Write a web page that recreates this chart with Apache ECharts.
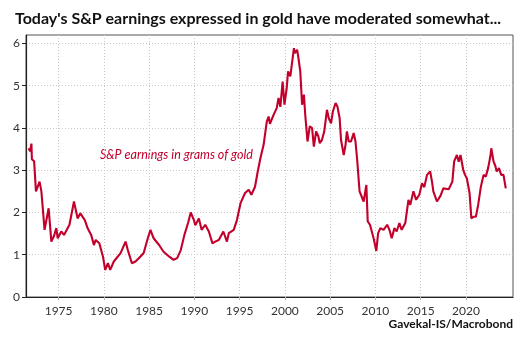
<!DOCTYPE html>
<html>
<head>
<meta charset="utf-8">
<script src="https://cdn.jsdelivr.net/npm/echarts@6/dist/echarts.min.js"></script>
<style>
  html, body { margin: 0; padding: 0; background: #fff; }
  #chart { width: 528px; height: 339px; }
</style>
</head>
<body>
<div id="chart"></div>
<script>
// S&P 500 earnings per share divided by the gold price, in grams of gold
const years = [
  1971.7, 1971.85, 1972.0, 1972.05, 1972.3, 1972.5, 1972.9, 1973.1, 1973.45, 1973.9,
  1974.2, 1974.5, 1974.75, 1974.9, 1975.3, 1975.6, 1976.2, 1976.7, 1977.1, 1977.4,
  1977.9, 1978.2, 1978.6, 1978.9, 1979.1, 1979.5, 1979.9, 1980.15, 1980.45, 1980.7,
  1981.1, 1981.3, 1981.85, 1982.4, 1982.65, 1983.1, 1983.5, 1984.05, 1984.4, 1984.8,
  1985.15, 1985.5, 1986.1, 1986.6, 1987.2, 1987.7, 1988.1, 1988.5, 1988.9, 1989.3,
  1989.6, 1989.95, 1990.1, 1990.5, 1990.8, 1991.2, 1991.6, 1992.0, 1992.3, 1992.7,
  1993.2, 1993.6, 1993.8, 1994.35, 1994.7, 1995.1, 1995.6, 1996.0, 1996.3, 1996.7,
  1997.0, 1997.3, 1997.65, 1998.0, 1998.2, 1998.35, 1998.75, 1999.1, 1999.3, 1999.5,
  1999.75, 1999.95, 2000.2, 2000.35, 2000.6, 2001.0, 2001.1, 2001.35, 2001.5, 2001.7,
  2001.9, 2002.1, 2002.25, 2002.5, 2002.75, 2003.0, 2003.2, 2003.45, 2003.7, 2003.85,
  2004.1, 2004.35, 2004.65, 2004.85, 2005.1, 2005.3, 2005.6, 2005.8, 2006.05, 2006.2,
  2006.5, 2006.7, 2006.85, 2007.05, 2007.3, 2007.6, 2007.8, 2008.0, 2008.25, 2008.45,
  2008.7, 2009.0, 2009.15, 2009.4, 2009.8, 2010.1, 2010.3, 2010.55, 2010.9, 2011.3,
  2011.55, 2011.8, 2012.1, 2012.35, 2012.65, 2012.9, 2013.3, 2013.65, 2013.85, 2014.2,
  2014.5, 2014.85, 2015.15, 2015.4, 2015.7, 2016.05, 2016.25, 2016.4, 2016.8, 2017.2,
  2017.5, 2017.7, 2018.1, 2018.5, 2018.7, 2019.0, 2019.2, 2019.4, 2019.7, 2019.9,
  2020.1, 2020.4, 2020.6, 2020.85, 2021.1, 2021.35, 2021.65, 2021.95, 2022.2, 2022.45,
  2022.7, 2022.8, 2023.05, 2023.25, 2023.4, 2023.65, 2023.9, 2024.15, 2024.4
];
const grams = [
  3.52, 3.45, 3.63, 3.26, 3.21, 2.50, 2.73, 2.50, 1.59, 2.10,
  1.31, 1.45, 1.63, 1.39, 1.55, 1.47, 1.71, 2.26, 1.86, 1.98,
  1.82, 1.63, 1.47, 1.23, 1.35, 1.27, 0.96, 0.64, 0.80, 0.64,
  0.84, 0.88, 1.04, 1.31, 1.11, 0.80, 0.84, 0.96, 1.04, 1.35,
  1.59, 1.39, 1.23, 1.07, 0.96, 0.88, 0.92, 1.11, 1.47, 1.75,
  2.00, 1.82, 1.70, 1.86, 1.59, 1.71, 1.55, 1.27, 1.31, 1.35,
  1.55, 1.31, 1.51, 1.59, 1.82, 2.22, 2.46, 2.54, 2.42, 2.61,
  2.97, 3.29, 3.60, 4.15, 4.27, 4.10, 4.31, 4.47, 4.71, 4.50,
  5.10, 4.55, 4.94, 5.34, 5.22, 5.89, 5.77, 5.85, 5.65, 5.34,
  4.55, 4.79, 4.31, 3.68, 4.04, 4.00, 3.56, 3.92, 3.80, 3.64,
  3.72, 3.92, 4.43, 4.23, 4.11, 4.39, 4.59, 4.51, 4.23, 3.72,
  3.36, 3.60, 3.92, 3.68, 3.68, 3.88, 3.68, 3.21, 2.50, 2.54,
  2.26, 2.65, 1.79, 1.71, 1.39, 1.09, 1.51, 1.63, 1.59, 1.71,
  1.59, 1.39, 1.63, 1.55, 1.75, 1.59, 1.75, 2.30, 2.18, 2.50,
  2.30, 2.42, 2.69, 2.60, 2.89, 2.97, 2.73, 2.50, 2.26, 2.40,
  2.57, 2.61, 2.55, 2.73, 3.21, 3.36, 3.20, 3.36, 3.01, 2.89,
  2.81, 2.46, 1.86, 1.90, 1.90, 2.18, 2.61, 2.89, 2.85, 3.05,
  3.33, 3.52, 3.21, 3.10, 2.97, 3.05, 2.89, 2.89, 2.57
];
const yearTicks = [1975, 1980, 1985, 1990, 1995, 2000, 2005, 2010, 2015, 2020];
const gramTicks = [0, 1, 2, 3, 4, 5, 6];

const titleText = "Today's S&P earnings expressed in gold have moderated somewhat...";
const seriesLabel = 'S&P earnings in grams of gold';
const sourceText = 'Gavekal-IS/Macrobond';

const FONT = 'Lato, "Open Sans", sans-serif';
const RED = '#c2002b';

const chart = echarts.init(document.getElementById('chart'), null, { renderer: 'canvas' });

chart.setOption({
  animation: false,
  backgroundColor: '#ffffff',
  title: {
    text: titleText,
    left: 10,
    top: 6,
    textStyle: { fontFamily: FONT, fontWeight: 'bold', fontSize: 16, color: '#111' }
  },
  grid: {
    left: 26, right: 15, top: 35, bottom: 42,
    outerBoundsMode: 'none',
    containLabel: false,
    show: true, borderColor: '#555', borderWidth: 1, backgroundColor: 'transparent'
  },
  xAxis: {
    type: 'value',
    min: 1971.4,
    max: 2025.2,
    axisLine: { show: true, lineStyle: { color: '#222', width: 1.2 } },
    axisTick: { show: true, customValues: yearTicks, length: 3, lineStyle: { color: '#bbb' } },
    axisLabel: {
      customValues: yearTicks,
      fontFamily: FONT, fontSize: 12, color: '#333', margin: 8,
      formatter: v => String(v)
    },
    splitLine: { show: true, lineStyle: { color: '#c8c8c8', type: [1, 2], width: 1 } }
  },
  yAxis: {
    type: 'value',
    min: 0,
    max: 6.2,
    name: 'Grams',
    nameLocation: 'middle',
    nameGap: 19,
    nameTextStyle: { fontFamily: FONT, fontSize: 12, color: '#333' },
    axisLine: { show: true, lineStyle: { color: '#222', width: 1.2 } },
    axisTick: { show: true, customValues: gramTicks, length: 4, lineStyle: { color: '#222' } },
    axisLabel: {
      customValues: gramTicks,
      fontFamily: FONT, fontSize: 12, color: '#333', margin: 6
    },
    splitLine: { show: true, lineStyle: { color: '#c8c8c8', type: [1, 2], width: 1 } }
  },
  series: [{
    type: 'line',
    data: years.map((y, i) => [y, grams[i]]),
    showSymbol: false,
    lineStyle: { color: RED, width: 2.1 },
    itemStyle: { color: RED }
  }],
  graphic: [
    {
      type: 'text', left: 100, top: 148,
      style: { text: seriesLabel, fill: RED, font: 'italic 12.5px ' + FONT }
    },
    {
      type: 'text', right: 15, top: 318,
      style: { text: sourceText, fill: '#111', font: 'bold 12px ' + FONT }
    }
  ]
});
</script>
</body>
</html>
